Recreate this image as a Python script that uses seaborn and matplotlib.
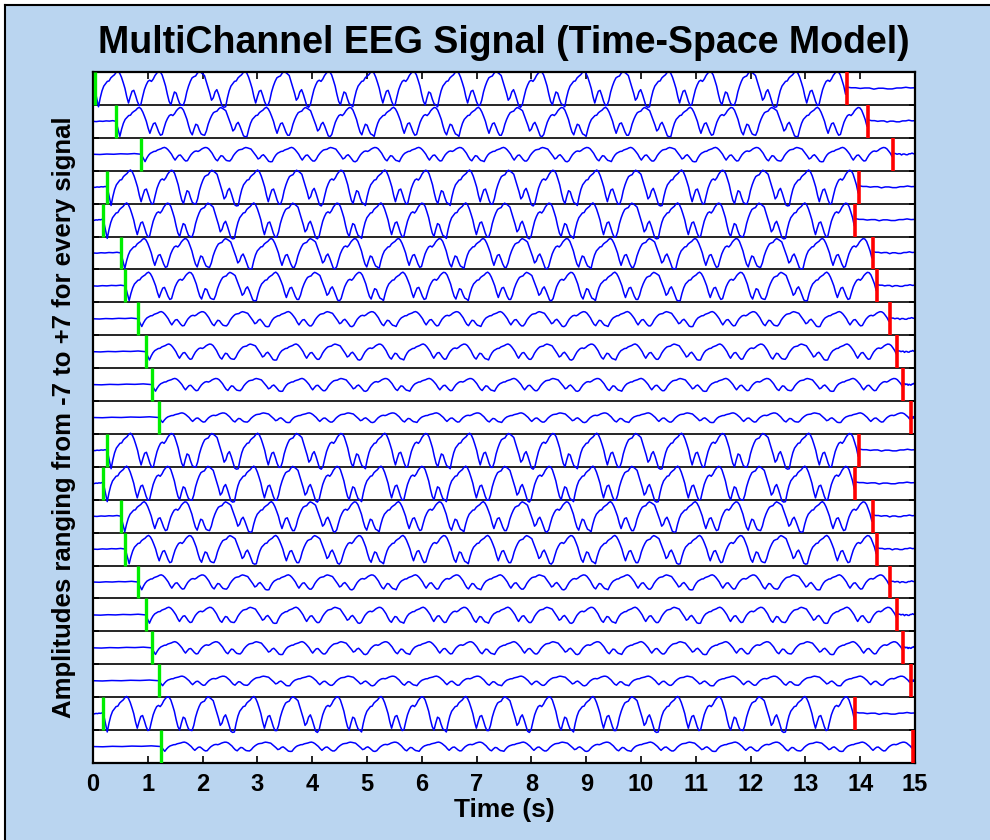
import numpy as np
import pandas as pd
import matplotlib
matplotlib.use("Agg")
import matplotlib.pyplot as plt
from matplotlib.patches import Rectangle
from matplotlib.lines import Line2D
import seaborn as sns

# One spike-and-wave cycle, 24 samples from trough to trough (amplitude units, strip = -7..+7)
cycle_a = [-7.8, -4.0, -1.0, 1.0, 2.0, 3.0, 3.2, 4.5, 5.2, 5.8, 6.8, 7.3,
           6.5, 4.8, 2.5, 0.0, -3.5, -6.2, -3.5, -1.2, -0.8, -3.0, -5.5, -7.2]
cycle_b = [-6.8, -3.5, -0.5, 1.5, 3.0, 3.5, 3.0, 4.0, 5.5, 6.5, 7.2, 7.0,
           5.8, 3.5, 1.0, -2.5, -5.5, -7.0, -4.0, -1.5, -2.0, -4.5, -6.5, -7.0]
cycle_c = [-7.2, -5.0, -1.5, 1.0, 3.0, 4.5, 5.0, 5.3, 6.5, 7.2, 6.8, 6.2,
           5.5, 3.0, 0.5, -2.0, -5.0, -4.0, -1.5, -0.5, -2.5, -5.0, -7.5, -8.0]
cycle_order = "ABCACBABACBACABCAB"
cycle_length = 0.7735          # seconds per cycle
first_trough_delay = 0.07      # seconds after onset

# Per-channel onset (green) and offset (red) times, and channel gain
onsets = [0.03, 0.42, 0.88, 0.26, 0.19, 0.51, 0.59, 0.82, 0.96, 1.07, 1.20,
          0.26, 0.19, 0.51, 0.59, 0.82, 0.96, 1.07, 1.20, 0.19, 1.24]
offsets = [13.75, 14.15, 14.59, 13.98, 13.91, 14.23, 14.31, 14.54, 14.68, 14.79, 14.92,
           13.98, 13.91, 14.23, 14.31, 14.54, 14.68, 14.79, 14.92, 13.91, 14.96]
gains = [1.0, 0.82, 0.40, 1.0, 1.0, 0.85, 0.80, 0.42, 0.45, 0.36, 0.27,
         1.0, 1.0, 0.85, 0.80, 0.42, 0.45, 0.36, 0.27, 1.0, 0.26]

# Resting activity before onset and after offset
pre_levels = [0.0, -0.1, 0.1, 0.0, 0.2, 0.1, 0.3, 0.0]
tail_levels = [0.6, 0.3, 0.3, 0.0, 0.2, 0.2, -0.3, 0.1, 0.1, -0.2, -0.2, 0.2, 0.2, 0.5, 0.2, 0.3]

x_ticks = list(range(0, 16))

n_ch = len(onsets)
strip = 14.0
half = 7.0
t_end = 15.0

cycles = {"A": cycle_a, "B": cycle_b, "C": cycle_c}
base = np.concatenate([cycles[c] for c in cycle_order])
dt = cycle_length / len(cycle_a)

frames = []
for j in range(n_ch):
    center = (n_ch - 1 - j) * strip + half
    on, off, g = onsets[j], offsets[j], gains[j]
    t_pre = np.linspace(0.0, on, len(pre_levels))
    v_pre = np.array(pre_levels)
    t_sig = on + first_trough_delay + np.arange(len(base)) * dt
    keep = t_sig < off
    t_sig = t_sig[keep]
    v_sig = g * base[keep]
    t_tail = np.linspace(off, t_end, len(tail_levels))
    v_tail = np.array(tail_levels)
    t = np.concatenate([t_pre, t_sig, t_tail])
    v = np.concatenate([v_pre, v_sig, v_tail])
    frames.append(pd.DataFrame({"time": t, "amp": center + v, "channel": j}))
df = pd.concat(frames, ignore_index=True)

plt.rcParams["font.family"] = ["Liberation Sans", "DejaVu Sans"]
plt.rcParams["font.weight"] = "bold"

W, H = 990, 840
fig = plt.figure(figsize=(W / 100, H / 100), dpi=100)
fig.patch.set_facecolor("white")
fig.patches.append(Rectangle((5 / W, 0), 1.0, 1 - 5 / H, transform=fig.transFigure,
                             facecolor="#BAD5F0", edgecolor="none", zorder=-10))
fig.lines.append(Line2D([5 / W, 5 / W], [0, 1 - 5 / H], transform=fig.transFigure,
                        color="black", linewidth=1.5, zorder=-9))
fig.lines.append(Line2D([5 / W, 1], [1 - 5 / H, 1 - 5 / H], transform=fig.transFigure,
                        color="black", linewidth=1.5, zorder=-9))

ax = fig.add_axes([93 / W, 1 - 763 / H, (915 - 93) / W, (763 - 72) / H])
ax.set_zorder(1)
ax.set_facecolor("white")

sns.lineplot(data=df, x="time", y="amp", units="channel", estimator=None, sort=False,
             color="#0000FF", linewidth=1.1, legend=False, ax=ax, zorder=2)

bounds = np.arange(1, n_ch) * strip
ax.hlines(bounds, 0, t_end, colors="black", linewidth=1.2, zorder=1.5)

lows = np.array([(n_ch - 1 - j) * strip for j in range(n_ch)])
ax.vlines(onsets, lows, lows + strip, colors="#00EE00", linewidth=2.4, zorder=3)
ax.vlines(offsets, lows, lows + strip, colors="#FF0000", linewidth=2.6, zorder=3)

ax.set_xlim(0, t_end)
ax.set_ylim(0, n_ch * strip)
ax.set_xticks(x_ticks)
ax.set_xticklabels([str(v) for v in x_ticks], fontsize=17, fontweight="bold")
ax.set_yticks(np.arange(0, n_ch + 1) * strip)
ax.set_yticklabels([])
ax.tick_params(axis="x", direction="in", length=5, width=1.2, top=True, bottom=True, pad=7)
ax.tick_params(axis="y", direction="in", length=4, width=1.2, left=True, right=True)
for s in ax.spines.values():
    s.set_linewidth(1.6)
    s.set_color("black")

ax.set_xlabel("Time (s)", fontsize=19, fontweight="bold", labelpad=2)
ax.set_ylabel("Amplitudes ranging from -7 to +7 for every signal", fontsize=18.5,
              fontweight="bold", labelpad=9)
ax.set_title("MultiChannel EEG Signal (Time-Space Model)", fontsize=27,
             fontweight="bold", pad=14)

fig.savefig("out.png", dpi=100, facecolor=fig.get_facecolor())
